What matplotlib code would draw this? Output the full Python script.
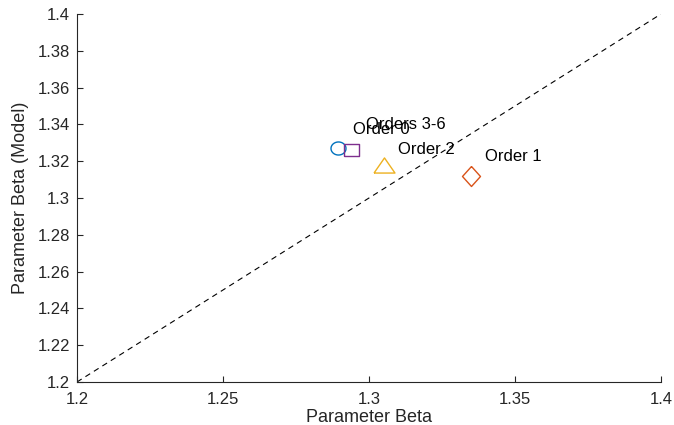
import matplotlib
matplotlib.use("Agg")
import matplotlib.pyplot as plt
import numpy as np

plt.rcParams['font.family'] = ['Liberation Sans', 'DejaVu Sans']

labels = ["Order 0", "Order 1", "Order 2", "Orders 3-6"]
beta_x = [1.2894, 1.3349, 1.3050, 1.2938]
beta_y = [1.3274, 1.3120, 1.3182, 1.3261]
label_x = [1.2945, 1.3397, 1.3099, 1.2990]
label_y = [1.3375, 1.3223, 1.3266, 1.3397]
colors = ["#0072BD", "#D95319", "#EDB120", "#7E2F8E"]

# marker shapes (slightly wide, as in the reference)
_t = np.linspace(0, 2 * np.pi, 60)
ellipse = list(zip(np.cos(_t), 0.87 * np.sin(_t)))
diamond = [(0, 1), (0.9, 0), (0, -1), (-0.9, 0), (0, 1)]
triangle = [(-1, -0.72), (1, -0.72), (0, 0.72), (-1, -0.72)]
rect = [(-1, -0.8), (1, -0.8), (1, 0.8), (-1, 0.8), (-1, -0.8)]
markers = [ellipse, diamond, triangle, rect]
msizes = [10.8, 14.4, 15.1, 10.8]

fig = plt.figure(figsize=(6.74, 4.25), dpi=100)
ax = fig.add_axes([0.1142, 0.1012, 0.8665, 0.8658])

ax.plot([1.2, 1.4], [1.2, 1.4], linestyle=(0, (5, 4)), color='black', linewidth=0.8)
for x, y, m, c, s in zip(beta_x, beta_y, markers, colors, msizes):
    ax.plot(x, y, marker=m, color=c, markerfacecolor='none', markersize=s,
            markeredgewidth=1.0, linestyle='none')
for lx, ly, t in zip(label_x, label_y, labels):
    ax.text(lx, ly, t, fontsize=12, va='center', ha='left', color='black')

ax.set_xlim(1.2, 1.4)
ax.set_ylim(1.2, 1.4)
ax.set_xticks([1.2, 1.25, 1.3, 1.35, 1.4])
ax.set_xticklabels(["1.2", "1.25", "1.3", "1.35", "1.4"])
yt = [1.2, 1.22, 1.24, 1.26, 1.28, 1.3, 1.32, 1.34, 1.36, 1.38, 1.4]
ax.set_yticks(yt)
ax.set_yticklabels(["1.2", "1.22", "1.24", "1.26", "1.28", "1.3", "1.32", "1.34", "1.36", "1.38", "1.4"])
ax.spines['top'].set_visible(False)
ax.spines['right'].set_visible(False)
for sp in ['left', 'bottom']:
    ax.spines[sp].set_color('#262626')
    ax.spines[sp].set_linewidth(0.8)
ax.tick_params(direction='in', length=4, width=0.8, colors='#262626', labelsize=12, labelcolor='#262626')
ax.tick_params(axis='x', pad=7)
ax.tick_params(axis='y', pad=5)
ax.set_xlabel("Parameter Beta", fontsize=13, color='#262626', labelpad=2)
ax.set_ylabel("Parameter Beta (Model)", fontsize=13, color='#262626', labelpad=6)

fig.savefig("out.png", dpi=100)
